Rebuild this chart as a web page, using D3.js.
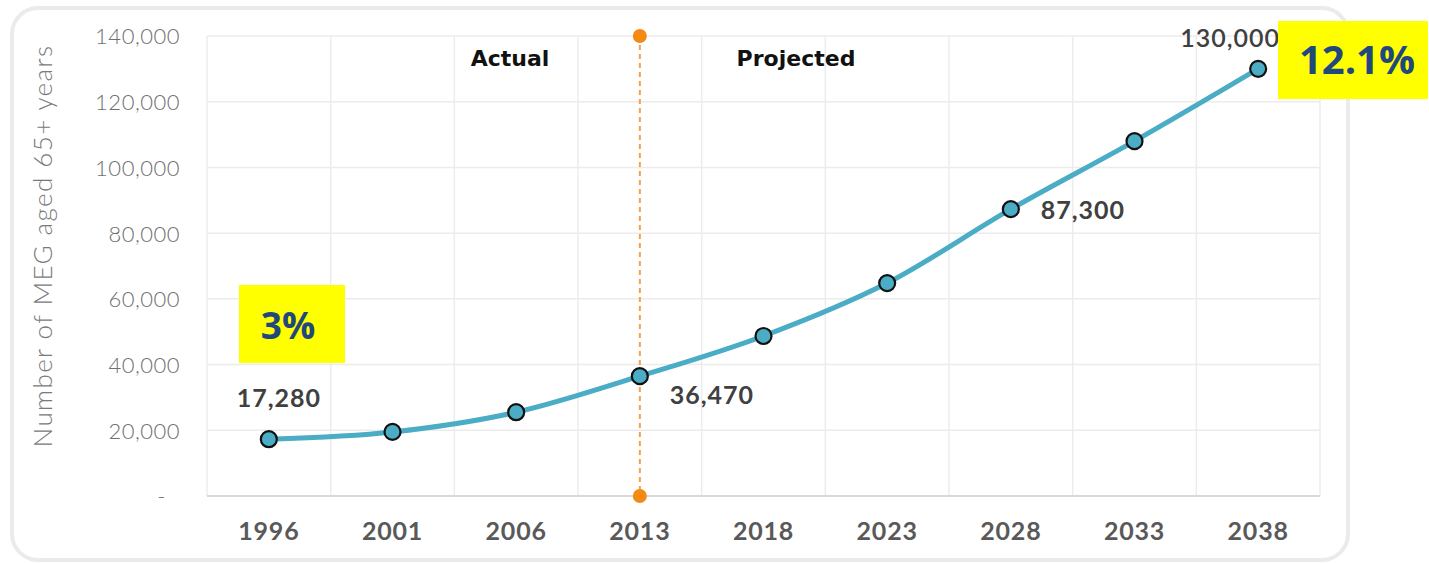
<!DOCTYPE html>
<html>
<head>
  <meta charset="utf-8">
  <title>MEG aged 65+</title>
  <script src="https://d3js.org/d3.v7.min.js"></script>
<style>
  body { margin: 0; background: #fff; }
  .yaxis text { font-family: Lato, sans-serif; font-weight: 300; font-size: 22px; fill: #6f6f6f; letter-spacing: 0.5px; }
  .xaxis text { font-family: Lato, sans-serif; font-weight: 700; font-size: 25px; fill: #595959; letter-spacing: 0.8px; }
  .grid line { stroke: #ececec; stroke-width: 1.5; }
</style>
</head>
<body>
<svg width="1429" height="563"></svg>
<script>
  var years = ["1996", "2001", "2006", "2013", "2018", "2023", "2028", "2033", "2038"];
  var meg65 = [17280, 19500, 25500, 36470, 48700, 64800, 87300, 108000, 130000];
  var yTicks = [0, 20000, 40000, 60000, 80000, 100000, 120000, 140000];
  var labelled = ["1996", "2013", "2028", "2038"];
  var splitYear = "2013";
  var phases = ["Actual", "Projected"];
  var growth = ["3%", "12.1%"];

  var svg = d3.select("svg");
  var pLeft = 207, pRight = 1320, pTop = 36, pBottom = 496;

  // rounded card behind the chart
  svg.append("rect")
    .attr("x", 12).attr("y", 8).attr("width", 1336).attr("height", 552)
    .attr("rx", 26)
    .attr("fill", "#fff").attr("stroke", "#ebebeb").attr("stroke-width", 4);

  var x = d3.scaleBand().domain(years).range([pLeft, pRight]);
  var y = d3.scaleLinear().domain([0, 140000]).range([pBottom, pTop]);

  // gridlines
  var grid = svg.append("g").attr("class", "grid");
  grid.selectAll(".h").data(yTicks.slice(1)).enter().append("line")
    .attr("x1", pLeft).attr("x2", pRight)
    .attr("y1", function(d) { return y(d); }).attr("y2", function(d) { return y(d); });
  var bounds = years.map(function(d) { return x(d); }).concat([pRight]);
  grid.selectAll(".v").data(bounds).enter().append("line")
    .attr("x1", function(d) { return d; }).attr("x2", function(d) { return d; })
    .attr("y1", pTop).attr("y2", pBottom);
  svg.append("line")
    .attr("x1", pLeft).attr("x2", pRight).attr("y1", pBottom).attr("y2", pBottom)
    .attr("stroke", "#d9d9d9").attr("stroke-width", 2);

  // y axis
  var fmt = d3.format(",");
  svg.append("g").attr("class", "yaxis")
    .attr("transform", "translate(180,0)")
    .call(d3.axisLeft(y).tickValues(yTicks).tickSize(0).tickPadding(0)
      .tickFormat(function(d) { return d === 0 ? "-" : fmt(d); }))
    .call(function(g) { g.select(".domain").remove(); })
    .selectAll("text").attr("dy", "0.36em");
  svg.select(".yaxis").selectAll(".tick").filter(function(d) { return d === 0; })
    .select("text").attr("x", -14);

  svg.append("text")
    .attr("transform", "translate(52," + ((pTop + pBottom) / 2 - 20) + ") rotate(-90)")
    .attr("text-anchor", "middle")
    .style("font-family", "Lato, sans-serif").style("font-weight", 300)
    .style("font-size", "26px").style("fill", "#7a7a7a").style("letter-spacing", "1.4px")
    .text("Number of MEG aged 65+ years");

  // x axis
  svg.append("g").attr("class", "xaxis")
    .attr("transform", "translate(0," + pBottom + ")")
    .call(d3.axisBottom(x).tickSize(0).tickPadding(26))
    .call(function(g) { g.select(".domain").remove(); })
    .selectAll("text").attr("dy", "0.71em");

  // actual / projected divider
  var sx = x(splitYear) + x.bandwidth() / 2;
  svg.append("line")
    .attr("x1", sx).attr("x2", sx).attr("y1", y(140000)).attr("y2", y(0))
    .attr("stroke", "#f5a04a").attr("stroke-width", 2).attr("stroke-dasharray", "5,4");
  svg.selectAll(".endDot").data([140000, 0]).enter().append("circle")
    .attr("cx", sx).attr("cy", function(d) { return y(d); }).attr("r", 7)
    .attr("fill", "#f28a14");

  svg.selectAll(".phase").data(phases).enter().append("text")
    .attr("x", function(d, i) { return i === 0 ? 510 : 796; })
    .attr("y", 66)
    .attr("text-anchor", "middle")
    .style("font-family", "'DejaVu Sans', sans-serif").style("font-weight", 700)
    .style("font-size", "22px").style("fill", "#111")
    .text(function(d) { return d; });

  // series line
  var pts = years.map(function(d, i) { return { year: d, value: meg65[i] }; });
  var line = d3.line()
    .x(function(d) { return x(d.year) + x.bandwidth() / 2; })
    .y(function(d) { return y(d.value); })
    .curve(d3.curveMonotoneX);
  svg.append("path").datum(pts)
    .attr("d", line).attr("fill", "none")
    .attr("stroke", "#4bacc6").attr("stroke-width", 5);
  svg.selectAll(".pt").data(pts).enter().append("circle")
    .attr("cx", function(d) { return x(d.year) + x.bandwidth() / 2; })
    .attr("cy", function(d) { return y(d.value); })
    .attr("r", 8)
    .attr("fill", "#4bacc6").attr("stroke", "#111").attr("stroke-width", 2.2);

  // value labels
  var offs = { "1996": [10, -32], "2013": [72, 28], "2028": [72, 10], "2038": [-28, -22] };
  svg.selectAll(".vl").data(pts.filter(function(d) { return labelled.indexOf(d.year) >= 0; }))
    .enter().append("text")
    .attr("x", function(d) { return x(d.year) + x.bandwidth() / 2 + offs[d.year][0]; })
    .attr("y", function(d) { return y(d.value) + offs[d.year][1]; })
    .attr("text-anchor", "middle")
    .style("font-family", "Lato, sans-serif")
    .style("font-weight", function(d) { return d.year === "2038" ? 600 : 700; })
    .style("font-size", "25px").style("fill", "#404040").style("letter-spacing", "1px")
    .text(function(d) { return fmt(d.value); });

  // growth callouts
  var boxes = [{ x: 239, y: 285, w: 106, h: 78, tx: 288, ty: 339, fs: 37 },
               { x: 1278, y: 21, w: 150, h: 78, tx: 1357, ty: 74, fs: 40 }];
  boxes.forEach(function(b, i) {
    svg.append("rect").attr("x", b.x).attr("y", b.y).attr("width", b.w).attr("height", b.h)
      .attr("fill", "#ffff00");
    svg.append("text").attr("x", b.tx).attr("y", b.ty).attr("text-anchor", "middle")
      .style("font-family", "'Open Sans', sans-serif").style("font-weight", 700)
      .style("font-size", b.fs + "px").style("fill", "#1f497d")
      .text(growth[i]);
  });
</script>
</body>
</html>
